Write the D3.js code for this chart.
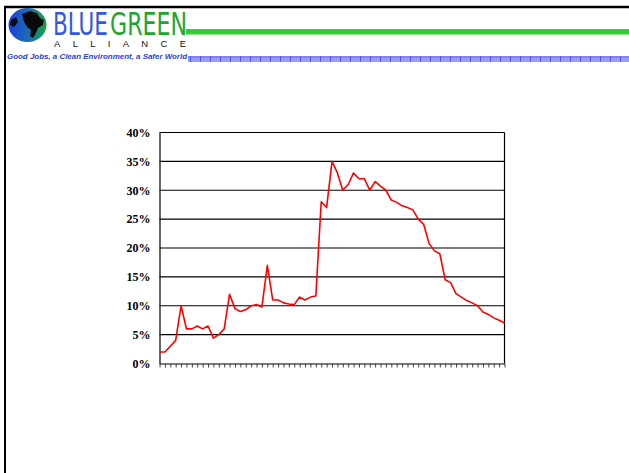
<!DOCTYPE html>
<html>
<head>
<meta charset="utf-8">
<script src="https://cdn.jsdelivr.net/npm/d3@7"></script>
<style>
    body { margin: 0; background: #fff; }
    svg { display: block; }
</style>
</head>
<body>
<div id="chart"></div>
<script>
// share of value per period, in percent
const values = [2, 2, 3, 4, 10, 6, 6, 6.5, 6, 6.5,
    4.4, 5, 6, 12, 9.5, 9, 9.3, 10, 10.2, 9.8,
    17, 11, 11, 10.5, 10.3, 10.2, 11.5, 11, 11.5, 11.7,
    28, 27, 35, 33, 30, 31, 33, 32, 32, 30,
    31.5, 30.7, 30, 28.3, 27.9, 27.3, 27, 26.6, 25, 24.1,
    20.8, 19.5, 19, 14.5, 14, 12.1, 11.5, 10.9, 10.5, 10,
    8.9, 8.5, 7.9, 7.5, 7];
const categories = values.map((d, i) => i);
const yTicks = [0, 5, 10, 15, 20, 25, 30, 35, 40];

const dim = {
    width: 629,
    height: 473
};

const plot = {
    top: 132.5,
    left: 159.5,
    right: 504.5,
    bottom: 363.5
};

const svg = d3.select("#chart").append("svg")
    .attr("width", dim.width)
    .attr("height", dim.height);

// ---- header / logo ----
const defs = svg.append("defs");
const grad = defs.append("linearGradient")
    .attr("id", "globeGrad")
    .attr("x1", "0").attr("x2", "1").attr("y1", "0").attr("y2", "0");
grad.append("stop").attr("offset", "0%").attr("stop-color", "#1b3fe0");
grad.append("stop").attr("offset", "55%").attr("stop-color", "#1d6fb0");
grad.append("stop").attr("offset", "100%").attr("stop-color", "#12a83a");

const pat = defs.append("pattern")
    .attr("id", "bluePat")
    .attr("width", 10).attr("height", 6)
    .attr("patternUnits", "userSpaceOnUse");
pat.append("rect").attr("width", 10).attr("height", 6).attr("fill", "#9a9af7");
pat.append("line").attr("x1", 0).attr("x2", 10).attr("y1", 3).attr("y2", 3)
    .attr("stroke", "#6b6bf0").attr("stroke-width", 1);
pat.append("line").attr("x1", 0.5).attr("x2", 0.5).attr("y1", 0).attr("y2", 6)
    .attr("stroke", "#5555ee").attr("stroke-width", 1);

// slide frame
svg.append("line")
    .attr("x1", 4).attr("x2", dim.width).attr("y1", 7).attr("y2", 7)
    .attr("stroke", "#000").attr("stroke-width", 2.5);
svg.append("line")
    .attr("x1", 5).attr("x2", 5).attr("y1", 6).attr("y2", dim.height)
    .attr("stroke", "#000").attr("stroke-width", 2);

// green bar + blue band
svg.append("rect")
    .attr("x", 186).attr("y", 29).attr("width", dim.width - 186).attr("height", 5.5)
    .attr("fill", "#33cc33");
svg.append("rect")
    .attr("x", 188).attr("y", 56).attr("width", dim.width - 188).attr("height", 6)
    .attr("fill", "url(#bluePat)");

// globe
svg.append("ellipse")
    .attr("cx", 27.5).attr("cy", 25).attr("rx", 19).attr("ry", 17)
    .attr("fill", "url(#globeGrad)");
svg.append("path")
    .attr("d", "M22,14 L30,11 L37,13 L40,18 L44,20 L43,25 L38,28 L36,33 L33,38 L30,36 L31,30 L27,27 L24,22 Z")
    .attr("fill", "#0a0a0a");
svg.append("path")
    .attr("d", "M11,20 L16,17 L18,22 L14,27 L10,25 Z")
    .attr("fill", "#0a0a0a");

// squeeze a word horizontally so it fills a given width
function squeezed(word, x, y, w, size, color) {
    const t = svg.append("text")
        .style("font-family", "'DejaVu Sans Condensed', 'Liberation Sans Narrow', sans-serif")
        .style("font-size", size + "px")
        .attr("fill", color)
        .text(word);
    const natural = t.node().getComputedTextLength();
    t.attr("transform", `translate(${x},${y}) scale(${w / natural},1)`);
    return t;
}
squeezed("BLUE", 53, 35, 55, 32, "#3358e0");
squeezed("GREEN", 110, 35, 77, 32, "#1fa52a");

svg.append("text")
    .attr("x", 54).attr("y", 46.5)
    .attr("textLength", 132).attr("lengthAdjust", "spacing")
    .style("font-family", "'Liberation Sans', sans-serif")
    .style("font-size", "9.5px")
    .attr("fill", "#111")
    .text("ALLIANCE");
svg.append("text")
    .attr("x", 7).attr("y", 59)
    .attr("textLength", 180).attr("lengthAdjust", "spacingAndGlyphs")
    .style("font-family", "'Liberation Sans', sans-serif")
    .style("font-size", "8px")
    .style("font-weight", "bold")
    .style("font-style", "italic")
    .attr("fill", "#2b3fd0")
    .text("Good Jobs, a Clean Environment, a Safer World");

// ---- chart ----
const xScale = d3.scalePoint()
    .domain(categories)
    .range([plot.left, plot.right]);

const yScale = d3.scaleLinear()
    .domain([0, 40])
    .range([plot.bottom, plot.top]);

// gridlines
svg.selectAll(".grid")
    .data(yTicks.filter(d => d > 0))
    .enter().append("line")
    .attr("class", "grid")
    .attr("x1", plot.left).attr("x2", plot.right)
    .attr("y1", d => yScale(d)).attr("y2", d => yScale(d))
    .attr("stroke", "#000").attr("stroke-width", 1.2);

// right border of plot area
svg.append("line")
    .attr("x1", plot.right).attr("x2", plot.right)
    .attr("y1", plot.top).attr("y2", plot.bottom)
    .attr("stroke", "#000").attr("stroke-width", 1.2);

const yAxis = svg.append("g")
    .attr("class", "yAxis")
    .attr("transform", `translate(${plot.left},0)`)
    .call(d3.axisLeft(yScale).tickValues(yTicks).tickSize(0).tickPadding(9).tickFormat(d => `${d}%`));
yAxis.select(".domain").attr("stroke", "#000").attr("stroke-width", 1.2);
yAxis.selectAll("text")
    .style("font-family", "'Liberation Serif', 'Times New Roman', serif")
    .style("font-size", "12px")
    .style("font-weight", "bold")
    .attr("fill", "#000");

const xAxis = svg.append("g")
    .attr("class", "xAxis")
    .attr("transform", `translate(0, ${plot.bottom})`)
    .call(d3.axisBottom(xScale).tickSize(4).tickSizeOuter(0).tickFormat(""));
xAxis.select(".domain").attr("stroke", "#000").attr("stroke-width", 1.2);
xAxis.selectAll(".tick line").attr("stroke", "#444");

const line = d3.line()
    .x((d, i) => xScale(categories[i]))
    .y(d => yScale(d));

svg.append("path")
    .datum(values)
    .attr("d", line)
    .attr("fill", "none")
    .attr("stroke", "#ff0000")
    .attr("stroke-width", 1.6)
    .attr("stroke-linejoin", "round");
</script>
</body>
</html>
